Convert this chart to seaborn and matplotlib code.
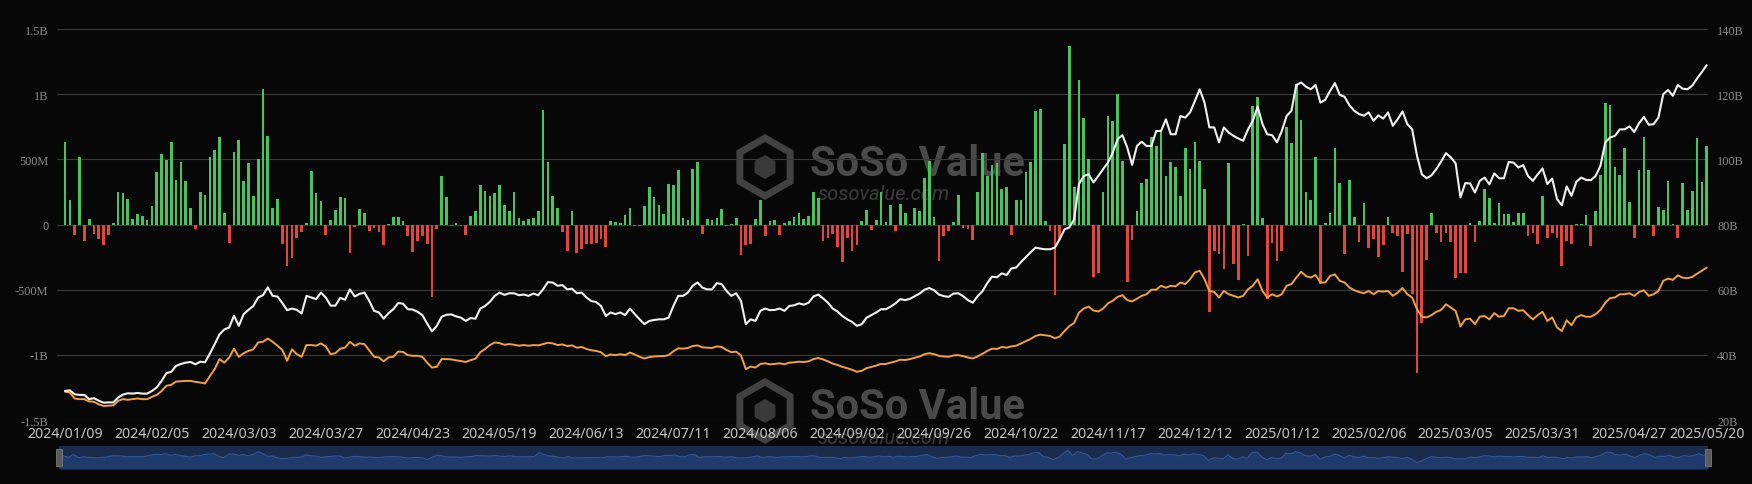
import numpy as np
import pandas as pd
import matplotlib
matplotlib.use("Agg")
import matplotlib.pyplot as plt
import matplotlib.patches as mpatches
import seaborn as sns

# daily net inflow, billions USD (one value per trading day)
daily_flow = [
    0.63, 0.19, -0.08, 0.52, -0.13, 0.04, -0.075, -0.11, -0.155, -0.08,
    0.01, 0.25, 0.245, 0.195, 0.04, 0.08, 0.067, 0.033, 0.145, 0.405,
    0.54, 0.495, 0.63, 0.34, 0.477, 0.33, 0.13, -0.035, 0.25, 0.23,
    0.52, 0.575, 0.675, 0.09, -0.14, 0.56, 0.645, 0.33, 0.47, 0.22,
    0.5, 1.04, 0.68, 0.13, 0.195, -0.15, -0.32, -0.26, -0.1, -0.06,
    0.01, 0.41, 0.24, 0.18, -0.08, 0.035, 0.11, 0.21, 0.2, -0.22,
    -0.02, 0.12, 0.087, -0.05, -0.03, -0.055, -0.16, 0.003, 0.056, 0.06,
    0.03, -0.09, -0.21, -0.125, -0.09, -0.15, -0.56, -0.035, 0.375, 0.21,
    -0.01, 0.01, -0.01, -0.08, 0.064, 0.1, 0.30, 0.256, 0.22, 0.24,
    0.30, 0.15, 0.105, 0.25, 0.05, 0.03, 0.043, 0.05, 0.1, 0.88,
    0.48, 0.215, 0.125, -0.06, -0.2, 0.1, -0.22, -0.19, -0.15, -0.15,
    -0.14, -0.11, -0.17, 0.03, 0.018, 0.01, 0.07, 0.13, -0.013, -0.015,
    0.14, 0.29, 0.21, 0.15, 0.08, 0.31, 0.30, 0.42, 0.05, 0.036,
    0.425, 0.48, -0.075, 0.04, 0.033, 0.05, 0.12, -0.015, 0.005, 0.05,
    -0.235, -0.16, -0.15, 0.04, 0.19, -0.087, 0.026, 0.036, -0.08, 0.01,
    0.03, 0.056, 0.087, 0.04, 0.066, 0.25, 0.2, -0.125, -0.1, -0.075,
    -0.17, -0.29, -0.1, -0.2, -0.16, 0.03, 0.115, -0.045, 0.036, 0.25,
    0.02, 0.15, -0.05, 0.155, 0.09, 0.005, 0.13, 0.10, 0.36, 0.49,
    0.06, -0.28, -0.09, -0.05, 0.02, 0.23, -0.025, -0.036, -0.12, 0.25,
    0.55, 0.37, 0.46, 0.47, 0.27, 0.29, -0.077, 0.19, 0.185, 0.40,
    0.48, 0.87, 0.89, 0.03, -0.05, -0.54, -0.12, 0.62, 1.37, 0.29,
    1.11, 0.815, 0.505, -0.40, -0.37, 0.25, 0.836, 0.795, 1.0, 0.485,
    -0.44, -0.12, 0.10, 0.315, 0.35, 0.675, 0.605, 0.72, 0.375, 0.477,
    0.44, 0.22, 0.59, 0.425, 0.636, 0.49, 0.27, -0.675, -0.2, -0.23,
    -0.34, 0.475, -0.30, -0.425, 0.005, -0.24, 0.91, 0.98, 0.05, -0.57,
    -0.145, -0.28, -0.2, 0.75, 0.625, 1.08, 0.805, 0.246, 0.187, 0.515,
    -0.46, 0.015, 0.087, 0.59, 0.32, -0.228, 0.34, 0.06, -0.138, 0.167,
    -0.182, -0.113, -0.246, -0.156, 0.06, -0.062, -0.087, -0.361, -0.074, -0.535,
    -1.136, -0.752, -0.271, 0.09, -0.062, -0.138, -0.062, -0.138, -0.407, -0.369,
    -0.369, 0.01, -0.138, 0.028, 0.27, 0.205, 0.008, 0.164, 0.08, 0.08,
    0.02, 0.09, 0.09, -0.087, -0.062, -0.151, 0.218, -0.1, -0.062, -0.1,
    -0.322, -0.125, -0.151, 0.003, 0.003, 0.072, -0.164, 0.105, 0.38, 0.933,
    0.918, 0.44, 0.38, 0.59, 0.17, -0.1, 0.42, 0.67, 0.42, -0.087,
    0.138, 0.113, 0.333, 0.003, -0.1, 0.318, 0.113, 0.254, 0.667, 0.328, 0.605,
]

# total net assets, billions USD (white line, right axis)
total_assets = [
    28.9, 29.1, 27.9, 27.7, 27.7, 26.4, 26.7, 25.9, 25.3, 25.4,
    25.4, 26.9, 27.8, 28.2, 28.1, 28.3, 28.1, 28.1, 28.9, 30.0,
    32.0, 34.4, 34.8, 36.6, 37.2, 37.6, 37.8, 37.1, 37.9, 37.7,
    40.4, 43.3, 46.3, 47.8, 48.4, 52.0, 48.9, 52.5, 53.8, 55.0,
    57.6, 58.3, 60.7, 58.1, 57.9, 55.9, 53.7, 54.2, 53.8, 52.7,
    58.1, 57.6, 57.1, 59.1, 57.6, 55.1, 55.1, 57.5, 56.9, 60.1,
    57.9, 58.7, 59.1, 56.6, 53.5, 53.0, 51.1, 52.8, 54.0, 55.9,
    55.7, 54.0, 53.9, 53.2, 52.2, 49.6, 47.2, 48.9, 51.7, 52.3,
    52.4, 51.8, 51.4, 50.4, 51.3, 51.1, 54.2, 55.0, 56.3, 58.1,
    59.1, 58.4, 58.9, 58.9, 58.3, 58.5, 58.1, 58.8, 58.3, 60.1,
    62.3, 62.2, 61.2, 61.4, 60.1, 60.3, 58.9, 59.1, 57.6, 56.5,
    56.2, 55.0, 51.9, 53.0, 52.5, 53.0, 52.2, 54.2, 52.5, 50.9,
    49.4, 50.4, 50.7, 50.9, 50.9, 51.4, 55.0, 58.1, 58.1, 59.1,
    61.2, 62.2, 60.6, 60.1, 60.1, 62.0, 61.7, 59.6, 58.1, 58.9,
    56.5, 49.4, 50.9, 50.4, 53.5, 54.2, 53.7, 53.8, 54.2, 53.5,
    55.0, 55.2, 55.8, 55.4, 56.0, 57.9, 58.5, 57.3, 56.0, 54.2,
    53.3, 51.9, 50.9, 50.1, 48.9, 49.4, 51.4, 52.2, 53.0, 54.0,
    54.0, 54.8, 55.8, 57.1, 56.8, 57.2, 58.0, 58.8, 60.0, 60.5,
    59.8, 58.5, 58.0, 57.8, 58.8, 58.9, 58.0, 56.8, 56.0, 58.0,
    59.5, 62.0, 64.0, 63.8, 65.0, 64.5, 66.5, 66.8, 68.5, 70.0,
    71.5, 72.9, 72.6, 72.4, 72.4, 72.9, 75.5, 78.5, 79.1, 81.6,
    92.4, 94.9, 95.4, 92.9, 94.9, 97.0, 99.0, 102.1, 106.2, 107.4,
    103.6, 98.3, 104.1, 105.4, 104.1, 104.1, 108.7, 108.7, 112.3, 107.7,
    107.7, 113.3, 112.8, 114.4, 117.9, 121.5, 117.4, 109.8, 109.8, 105.2,
    109.8, 108.2, 107.2, 106.4, 105.7, 109.2, 111.8, 116.2, 110.8, 107.7,
    107.4, 105.2, 108.7, 113.3, 114.9, 122.8, 123.6, 122.3, 121.5, 122.8,
    117.4, 118.3, 121.0, 123.4, 119.8, 119.2, 116.6, 114.9, 113.9, 113.4,
    114.4, 111.8, 113.5, 112.5, 114.4, 110.3, 112.3, 114.7, 110.8, 109.2,
    101.1, 95.4, 94.2, 95.1, 97.0, 99.3, 101.9, 100.6, 98.8, 88.3,
    92.7, 92.6, 89.8, 93.4, 94.4, 92.3, 95.7, 94.2, 94.2, 99.2,
    99.0, 97.5, 98.2, 94.9, 93.4, 95.4, 97.2, 92.4, 94.1, 87.8,
    85.9, 91.7, 88.8, 93.1, 94.4, 93.7, 93.6, 94.9, 98.0, 105.2,
    106.7, 107.2, 109.2, 109.2, 110.1, 108.4, 111.1, 113.0, 110.6, 110.8,
    112.8, 120.0, 121.3, 119.5, 122.8, 121.7, 121.5, 122.6, 124.8, 126.8, 128.9,
]

# orange line, billions USD (right axis)
cum_assets = [
    28.7, 28.4, 26.6, 26.4, 26.4, 25.7, 25.6, 24.8, 24.3, 24.4,
    24.5, 25.9, 26.4, 26.2, 26.4, 26.6, 26.4, 26.4, 27.1, 27.7,
    28.9, 30.5, 30.8, 31.8, 31.9, 32.0, 32.0, 31.7, 31.5, 31.2,
    33.5, 35.6, 38.7, 37.6, 39.2, 41.9, 39.4, 40.5, 41.2, 41.7,
    43.8, 44.0, 45.0, 44.0, 42.8, 41.5, 38.2, 41.7, 40.2, 39.4,
    43.0, 43.0, 42.8, 43.5, 42.6, 40.2, 40.5, 41.9, 42.2, 44.0,
    42.8, 43.5, 43.3, 41.4, 39.4, 39.2, 38.0, 39.2, 39.4, 41.0,
    40.9, 39.9, 39.7, 39.7, 39.4, 37.6, 36.1, 36.3, 38.7, 38.7,
    38.6, 38.3, 38.1, 37.8, 38.4, 38.8, 40.8, 41.8, 43.0, 43.8,
    43.6, 43.1, 43.3, 43.1, 42.8, 43.0, 42.8, 43.0, 42.9, 43.3,
    43.7, 43.5, 43.0, 43.2, 42.7, 42.9, 42.2, 42.4, 41.8, 41.4,
    41.2, 40.8, 39.6, 40.1, 39.9, 40.2, 39.9, 40.7, 40.1, 39.4,
    38.9, 39.3, 39.5, 39.6, 39.6, 39.9, 41.1, 42.0, 41.9, 42.1,
    42.7, 42.9, 42.3, 42.2, 42.1, 42.6, 42.4, 41.5, 40.8, 41.0,
    39.8, 35.6, 36.4, 36.1, 37.2, 37.4, 37.1, 37.2, 37.4, 37.1,
    37.6, 37.7, 37.9, 37.8, 38.0, 38.7, 39.0, 38.6, 38.0, 37.3,
    36.9, 36.3, 35.9, 35.4, 34.8, 35.1, 35.9, 36.3, 36.7, 37.2,
    37.2, 37.6, 38.0, 38.5, 38.4, 38.7, 39.1, 39.5, 40.2, 40.5,
    40.2, 39.7, 39.5, 39.4, 39.8, 39.9, 39.6, 39.2, 38.9, 39.5,
    40.3, 41.2, 41.9, 41.8, 42.4, 42.2, 42.6, 42.8, 43.5, 44.2,
    44.9, 45.8, 46.2, 46.0, 45.8, 45.1, 45.6, 47.3, 48.8, 49.8,
    53.0, 54.2, 54.8, 53.6, 53.3, 54.2, 55.8, 56.6, 57.8, 58.3,
    56.8, 56.4, 57.2, 58.1, 58.6, 60.0, 60.0, 61.2, 60.6, 61.2,
    61.0, 62.2, 61.7, 63.2, 65.3, 65.8, 63.2, 59.6, 59.3, 57.6,
    59.6, 58.6, 58.1, 57.6, 58.1, 60.1, 61.2, 63.2, 59.6, 57.6,
    58.6, 57.9, 58.6, 61.2, 61.7, 63.7, 65.5, 64.2, 63.7, 64.5,
    62.2, 62.2, 64.2, 64.7, 62.7, 62.2, 60.7, 59.8, 59.3, 58.9,
    59.6, 58.6, 59.6, 59.4, 59.6, 58.1, 59.1, 60.5, 58.6, 57.6,
    54.0, 51.7, 51.5, 52.2, 53.2, 53.8, 55.5, 54.5, 53.5, 48.7,
    50.9, 51.1, 49.4, 51.7, 51.9, 50.9, 52.8, 51.7, 51.9, 54.3,
    54.3, 53.5, 53.7, 52.2, 50.9, 52.2, 53.2, 50.4, 51.5, 48.4,
    47.3, 50.6, 49.1, 51.5, 52.2, 51.7, 51.7, 52.5, 53.8, 56.0,
    57.4, 57.6, 58.6, 58.6, 58.9, 58.1, 59.3, 59.8, 58.1, 58.6,
    59.6, 62.7, 63.4, 63.0, 64.4, 63.7, 63.5, 63.9, 64.9, 65.8, 66.8,
]

date_labels = ['2024/01/09', '2024/02/05', '2024/03/03', '2024/03/27', '2024/04/23',
               '2024/05/19', '2024/06/13', '2024/07/11', '2024/08/06', '2024/09/02',
               '2024/09/26', '2024/10/22', '2024/11/17', '2024/12/12', '2025/01/12',
               '2025/02/06', '2025/03/05', '2025/03/31', '2025/04/27', '2025/05/20']
flow_ticks = [-1.5, -1, -0.5, 0, 0.5, 1, 1.5]
flow_tick_labels = ['-1.5B', '-1B', '-500M', '0', '500M', '1B', '1.5B']
asset_ticks = [20, 40, 60, 80, 100, 120, 140]
asset_tick_labels = ['20B', '40B', '60B', '80B', '100B', '120B', '140B']

BG = '#080808'
GREEN = '#47c45b'
RED = '#e4463c'
WHITE = '#f0f0f0'
ORANGE = '#f2a23e'
GRID = '#3a3a3a'
AXTXT = '#8a8a8a'

sns.set_theme(style='dark', rc={'axes.facecolor': 'none', 'figure.facecolor': BG})
plt.rcParams['font.family'] = ['DejaVu Sans']

W, H = 1752, 485
fig = plt.figure(figsize=(W / 100, H / 100), dpi=100, facecolor=BG)


def box(x0, y0, x1, y1):
    # pixel box (from top-left) -> figure fraction rect
    return [x0 / W, 1 - y1 / H, (x1 - x0) / W, (y1 - y0) / H]


#Watermarks, behind the axes
for dy in (0, 244):
    cy = (H - 168 - dy) / 100
    fig.add_artist(mpatches.RegularPolygon((7.65, cy), 6, radius=0.29,
                                           transform=fig.dpi_scale_trans,
                                           facecolor='none', edgecolor='#424242',
                                           lw=5, zorder=-2))
    fig.add_artist(mpatches.RegularPolygon((7.65, cy), 6, radius=0.12,
                                           transform=fig.dpi_scale_trans,
                                           facecolor='#3a3a3a', edgecolor='none',
                                           zorder=-2))
    fig.text(810 / W, 1 - (164 + dy) / H, 'SoSo Value', fontfamily='Roboto',
             fontweight='bold', fontsize=30, color='#4a4a4a', va='center',
             ha='left', zorder=-1)
    fig.text(818 / W, 1 - (195 + dy) / H, 'sosovalue.com', fontfamily='Roboto',
             style='italic', fontsize=14.5, color='#3c3c3c', va='center',
             ha='left', zorder=-1)

#Main axes: bars on left axis
ax = fig.add_axes(box(57.3, 30, 1708, 421))
ax.set_facecolor('none')
df = pd.DataFrame({'day': np.arange(len(daily_flow)), 'flow': daily_flow})
df['dir'] = np.where(df['flow'] >= 0, 'in', 'out')
sns.barplot(data=df, x='day', y='flow', hue='dir', palette={'in': GREEN, 'out': RED},
            native_scale=True, dodge=False, width=0.56, errorbar=None,
            saturation=1, linewidth=0, legend=False, ax=ax)
ax.set_ylim(-1.5, 1.5)
ax.set_yticks(flow_ticks, flow_tick_labels, fontfamily='Liberation Serif',
              fontsize=8.8, color=AXTXT)
ax.tick_params(axis='y', length=0, pad=6.5)
ax.grid(axis='y', color=GRID, linewidth=0.8)
ax.grid(axis='x', visible=False)
ax.set_axisbelow(True)

#Lines on right axis
ax2 = ax.twinx()
sns.lineplot(x=np.arange(len(cum_assets)), y=cum_assets, color=ORANGE,
             linewidth=1.4, ax=ax2)
sns.lineplot(x=np.arange(len(total_assets)), y=total_assets, color=WHITE,
             linewidth=1.5, ax=ax2)
ax2.set_ylim(20, 140)
ax2.set_yticks(asset_ticks, asset_tick_labels, fontfamily='Liberation Serif',
               fontsize=8.8, color=AXTXT)
ax2.tick_params(axis='y', length=0, pad=6.5)
ax2.grid(False)
ax2.set_ylabel('')

n = len(daily_flow)
ax.set_xlim(-1.6, n - 1 + 0.27)
xt = list(range(0, n - 16, 18)) + [n - 1]
ax.set_xticks(xt, date_labels, fontfamily='Noto Sans', fontsize=10.2, color='#c4c4c4')
ax.tick_params(axis='x', length=0, pad=4)
ax.set_xlabel('')
ax.set_ylabel('')
for a in (ax, ax2):
    for s in a.spines.values():
        s.set_visible(False)

#Navigator strip under the chart
nav = fig.add_axes(box(59, 447, 1708, 470))
nav.set_facecolor('#1a2b4d')
idx = np.arange(n)
nav.fill_between(idx, -2.4, daily_flow, color='#1f3a6c', lw=0)
sns.lineplot(x=idx, y=daily_flow, color='#34589a', linewidth=0.8, ax=nav)
nav.set_xlim(0, n - 1)
nav.set_ylim(-2.4, 2.2)
nav.set_xticks([])
nav.set_yticks([])
nav.set_xlabel('')
nav.set_ylabel('')
for s in nav.spines.values():
    s.set_visible(False)
for hx in (59, 1708):
    fig.add_artist(mpatches.Rectangle(((hx - 3) / W, 1 - 467 / H), 6 / W, 17 / H,
                                      transform=fig.transFigure, facecolor='#5a5a5a',
                                      edgecolor='#7a7a7a', lw=0.6, zorder=5))

fig.savefig('out.png', dpi=100, facecolor=BG)
